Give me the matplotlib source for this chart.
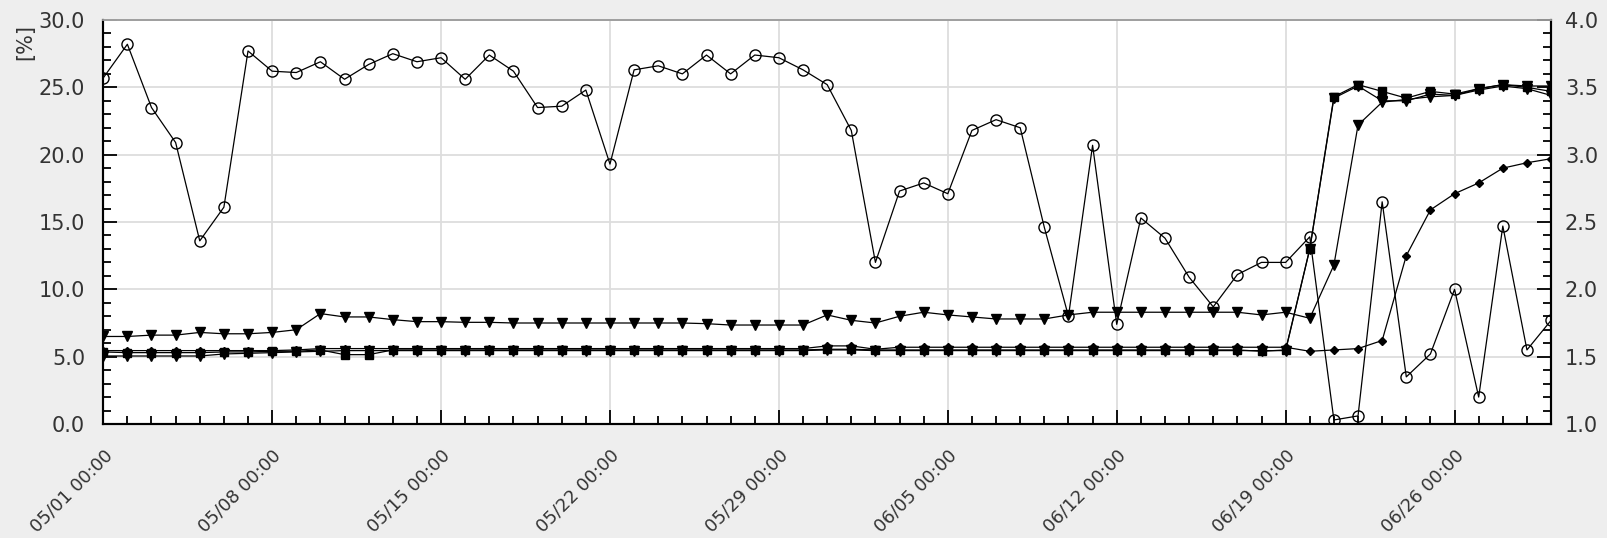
import numpy as np
import pandas as pd
import matplotlib
matplotlib.use("Agg")
import matplotlib.pyplot as plt
import matplotlib.dates as mdates
from matplotlib.ticker import MultipleLocator, FormatStrFormatter

# daily values, 05/01 .. 06/30
dates = pd.date_range("2023-05-01", periods=61, freq="D")
week_ticks = pd.date_range("2023-05-01", "2023-06-30", freq="7D")

circles = [25.7, 28.2, 23.5, 20.9, 13.6, 16.1, 27.7, 26.2, 26.1, 26.9,
           25.6, 26.7, 27.5, 26.9, 27.2, 25.6, 27.4, 26.2, 23.5, 23.6,
           24.8, 19.3, 26.3, 26.6, 26.0, 27.4, 26.0, 27.4, 27.2, 26.3,
           25.2, 21.8, 12.0, 17.3, 17.9, 17.1, 21.8, 22.6, 22.0, 14.6,
           8.0, 20.7, 7.4, 15.3, 13.8, 10.9, 8.7, 11.1, 12.0, 12.0,
           13.9, 0.3, 0.6, 16.5, 3.5, 5.2, 10.0, 2.0, 14.7, 5.5, 7.7]

tri_upper = [6.5, 6.5, 6.6, 6.6, 6.8, 6.7, 6.7, 6.8, 7.0, 8.2,
             7.95, 7.95, 7.75, 7.6, 7.6, 7.55, 7.55, 7.5, 7.5, 7.5,
             7.5, 7.5, 7.5, 7.5, 7.5, 7.45, 7.35, 7.35, 7.35, 7.35,
             8.1, 7.7, 7.5, 8.0, 8.3, 8.1, 7.95, 7.8, 7.8, 7.8,
             8.1, 8.3, 8.3, 8.3, 8.3, 8.3, 8.3, 8.3, 8.1, 8.3,
             7.85, 11.8, 22.2, 23.9, 24.1, 24.3, 24.4, 24.9, 25.2, 25.1, 25.1]

tri_lower = [5.05, 5.05, 5.05, 5.05, 5.05, 5.2, 5.25, 5.3, 5.35, 5.4,
             5.45, 5.45, 5.45, 5.45, 5.45, 5.45, 5.45, 5.45, 5.45, 5.45,
             5.45, 5.45, 5.45, 5.45, 5.45, 5.45, 5.45, 5.45, 5.45, 5.45,
             5.5, 5.5, 5.45, 5.45, 5.45, 5.45, 5.45, 5.45, 5.45, 5.45,
             5.45, 5.45, 5.45, 5.45, 5.45, 5.45, 5.45, 5.45, 5.45, 5.45,
             13.0, 24.2, 25.1, 24.0, 24.0, 24.5, 24.4, 24.8, 25.1, 24.9, 24.4]

squares = [5.35, 5.3, 5.3, 5.3, 5.3, 5.35, 5.35, 5.4, 5.4, 5.5,
           5.15, 5.15, 5.5, 5.5, 5.5, 5.5, 5.5, 5.5, 5.5, 5.5,
           5.5, 5.5, 5.5, 5.5, 5.5, 5.5, 5.5, 5.5, 5.5, 5.5,
           5.55, 5.55, 5.5, 5.5, 5.5, 5.5, 5.5, 5.5, 5.5, 5.5,
           5.5, 5.5, 5.5, 5.5, 5.5, 5.5, 5.5, 5.5, 5.4, 5.5,
           13.0, 24.3, 25.2, 24.7, 24.2, 24.7, 24.5, 24.9, 25.2, 25.0, 24.7]

# right axis series
diamonds = [1.545, 1.545, 1.545, 1.545, 1.545, 1.545, 1.545, 1.545, 1.55, 1.56,
            1.56, 1.56, 1.56, 1.56, 1.56, 1.56, 1.56, 1.56, 1.56, 1.56,
            1.56, 1.56, 1.56, 1.56, 1.56, 1.56, 1.56, 1.56, 1.56, 1.56,
            1.58, 1.58, 1.555, 1.57, 1.57, 1.57, 1.57, 1.57, 1.57, 1.57,
            1.57, 1.57, 1.57, 1.57, 1.57, 1.57, 1.57, 1.57, 1.57, 1.57,
            1.54, 1.55, 1.56, 1.62, 2.25, 2.59, 2.71, 2.79, 2.90, 2.94, 2.97]

plt.rcParams['font.family'] = ['DejaVu Sans']
txt_col = '#333333'
fs = 15

fig = plt.figure(figsize=(16.08, 5.38), dpi=100, facecolor='#eeeeee')
ax = fig.add_axes([0.0642, 0.2119, 0.9004, 0.7509])
ax.set_facecolor('white')

lw = 0.9
ax.plot(dates, tri_upper, color='black', lw=lw, marker='v', ms=7.5, mfc='black', mec='black')
ax.plot(dates, tri_lower, color='black', lw=lw, marker='v', ms=7.5, mfc='black', mec='black')
ax.plot(dates, squares, color='black', lw=lw, marker='s', ms=6, mfc='black', mec='black')
ax.plot(dates, circles, color='black', lw=lw, marker='o', ms=8, mfc='none', mec='black', mew=1.0)

ax2 = ax.twinx()
ax2.plot(dates, diamonds, color='black', lw=lw, marker='D', ms=4, mfc='black', mec='black')

# x axis: weekly labels from 05/01, daily minor ticks
ax.set_xlim(dates[0], dates[-1])
ax.set_xticks(week_ticks)
ax.xaxis.set_major_formatter(mdates.DateFormatter('%m/%d %H:%M'))
ax.xaxis.set_minor_locator(mdates.DayLocator())

# left axis
ax.set_ylim(0, 30)
ax.yaxis.set_major_locator(MultipleLocator(5))
ax.yaxis.set_minor_locator(MultipleLocator(1))
ax.yaxis.set_major_formatter(FormatStrFormatter('%.1f'))
ax.set_ylabel('[%]', fontsize=fs, color=txt_col)
ax.yaxis.set_label_coords(-0.047, 0.945)

# right axis
ax2.set_ylim(1.0, 4.0)
ax2.yaxis.set_major_locator(MultipleLocator(0.5))
ax2.yaxis.set_minor_locator(MultipleLocator(0.1))
ax2.yaxis.set_major_formatter(FormatStrFormatter('%.1f'))

ax.grid(True, which='major', color='#dddddd', lw=1.3)
ax.set_axisbelow(True)

ax.tick_params(axis='both', which='major', direction='in', length=10, width=1.3,
               labelsize=fs, labelcolor=txt_col, right=False, top=False)
ax.tick_params(axis='both', which='minor', direction='in', length=6, width=1.3,
               right=False, top=False)
ax.tick_params(axis='y', pad=13)
ax.tick_params(axis='x', pad=16, labelsize=13)
ax2.tick_params(axis='y', which='major', direction='in', length=10, width=1.3,
                labelsize=fs, labelcolor=txt_col, pad=10)
ax2.tick_params(axis='y', which='minor', direction='in', length=6, width=1.3)

for lab in ax.get_xticklabels():
    lab.set_rotation(45)
    lab.set_ha('right')
    lab.set_va('top')
    lab.set_rotation_mode('anchor')

for a in (ax, ax2):
    for s in ('left', 'bottom', 'right'):
        a.spines[s].set_linewidth(1.5)
        a.spines[s].set_color('black')
    a.spines['top'].set_color('#a0a0a0')
    a.spines['top'].set_linewidth(1.3)

fig.savefig('out.png', dpi=100, facecolor=fig.get_facecolor())
